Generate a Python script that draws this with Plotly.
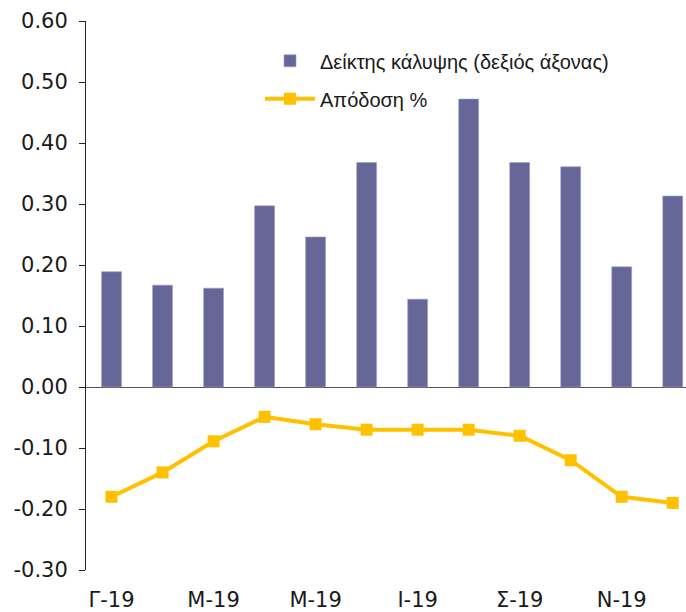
import plotly.graph_objects as go

months = ["Γ-19", "Φ-19", "Μ-19", "Α-19", "Μ-19", "Ι-19",
          "Ι-19", "Α-19", "Σ-19", "Ο-19", "Ν-19", "Δ-19"]
coverage = [0.189, 0.167, 0.162, 0.297, 0.246, 0.368,
            0.144, 0.472, 0.368, 0.361, 0.197, 0.313]
yield_pct = [-0.18, -0.14, -0.089, -0.049, -0.061, -0.07,
             -0.07, -0.07, -0.08, -0.12, -0.18, -0.19]
y_ticks = [-0.3, -0.2, -0.1, 0.0, 0.1, 0.2, 0.3, 0.4, 0.5, 0.6]
y_tick_labels = ["-0.30", "-0.20", "-0.10", "0.00", "0.10",
                 "0.20", "0.30", "0.40", "0.50", "0.60"]

x = list(range(len(months)))
label_idx = x[::2]

fig = go.Figure()
fig.add_trace(go.Bar(
    x=x, y=coverage, name="Δείκτης κάλυψης (δεξιός άξονας)",
    marker=dict(color="#666699", line=dict(color="#9d9dc6", width=0.6)),
    width=0.39, legendgroup="a",
))
fig.add_trace(go.Scatter(
    x=x, y=yield_pct, name="Απόδοση %", mode="lines+markers",
    line=dict(color="#FFC000", width=4),
    marker=dict(symbol="square", size=12, color="#FFC000"),
    legendgroup="b",
))

fig.update_layout(
    width=686, height=612,
    margin=dict(l=86, r=0, t=21, b=42),
    paper_bgcolor="white", plot_bgcolor="white",
    showlegend=True,
    legend=dict(
        x=0.29, y=0.963, xanchor="left", yanchor="top",
        font=dict(family="Liberation Sans, Arial, sans-serif", size=20, color="#1a1a1a"),
        itemwidth=50, tracegroupgap=9, bgcolor="rgba(0,0,0,0)",
    ),
    font=dict(family="DejaVu Sans, Verdana, sans-serif", color="#1a1a1a"),
    bargap=0.6,
)
fig.update_xaxes(
    range=[-0.5, 11.26], tickmode="array",
    tickvals=label_idx, ticktext=[months[i] for i in label_idx],
    showgrid=False, showline=False, zeroline=False, ticks="",
    tickfont=dict(size=21), ticklabelstandoff=15, automargin=False,
)
fig.update_yaxes(
    range=[-0.3, 0.6], tickmode="array", tickvals=y_ticks,
    ticktext=y_tick_labels, showgrid=False,
    showline=True, linecolor="#222", linewidth=1,
    ticks="outside", ticklen=6, tickcolor="#222",
    zeroline=True, zerolinecolor="#555", zerolinewidth=1,
    tickfont=dict(size=21), ticklabelstandoff=7, automargin=False,
)

fig.write_html(
    "out.html",
    config={"displayModeBar": False},
    post_script="document.body.style.margin='0';document.body.style.padding='0';document.body.style.overflow='hidden';",
)
